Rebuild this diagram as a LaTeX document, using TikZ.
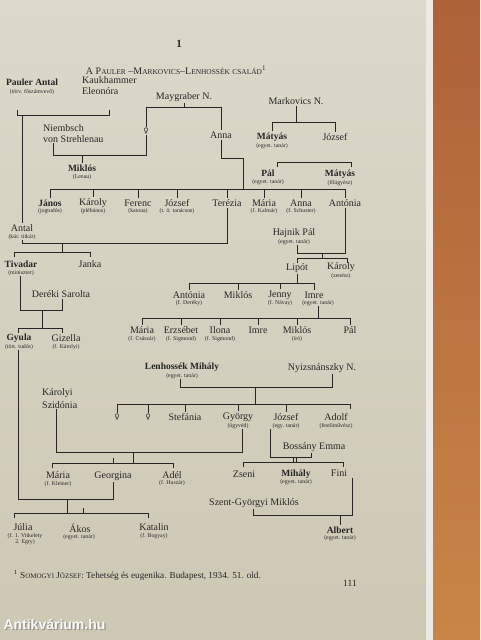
\documentclass[tikz,border=0pt]{standalone}
\usepackage{fontspec}
\setmainfont{Liberation Serif}
\newfontfamily\symf{DejaVu Sans}
\newfontfamily\wmf{Liberation Sans}
\definecolor{ink}{HTML}{262626}
\definecolor{paperT}{HTML}{DCD9CB}
\definecolor{paperB}{HTML}{CDC8B4}
\definecolor{pedge}{HTML}{ECEAE2}
\definecolor{woodT}{HTML}{AE6238}
\definecolor{woodB}{HTML}{C98547}
\newcommand\smc[1]{{\fontsize{7.4}{8}\selectfont #1}}
\newcommand\fem{{\symf\fontsize{7.5}{7.5}\selectfont ♀}}
\tikzset{
 nm/.style={font=\fontsize{10}{11}\selectfont, text=ink, inner sep=1pt},
 bn/.style={font=\bfseries\fontsize{9.5}{11}\selectfont, text=ink, inner sep=1pt},
 sb/.style={font=\fontsize{5.8}{6.3}\selectfont, text=ink, inner sep=0.5pt},
 ln/.style={draw=ink, line width=0.9pt},
}
\begin{document}
\begin{tikzpicture}[x=1pt,y=-1pt]
\useasboundingbox (0,0) rectangle (480,640);
\shade[top color=paperT,bottom color=paperB] (0,0) rectangle (428,640);
\fill[pedge] (426,0) rectangle (433,640);
\shade[top color=woodT,bottom color=woodB] (433,0) rectangle (480,640);

% heading
\node[bn,font=\bfseries\fontsize{11}{11}\selectfont] (num) at (179,44) {1};
\node[nm,font=\fontsize{10}{10}\selectfont] (title) at (176,70) {A P\smc{AULER} –M\smc{ARKOVICS}–L\smc{ENHOSSÉK} \smc{CSALÁD}\textsuperscript{1}};

% top generation
\node[bn] (pauler) at (32,82) {Pauler Antal};
\node[sb] (pauler-s) at (32,92) {(törv. főszámvevő)};
\node[nm,align=left,anchor=north west] (kauk) at (81,75) {Kaukhammer\\Eleonóra};
\node[nm] (mayg) at (184,97) {Maygraber N.};
\node[nm] (mark) at (296,101) {Markovics N.};

\coordinate (pkL) at (17,115); \coordinate (pkR) at (109,115);
\draw[ln] ([yshift=5pt]pkL) -- (pkL) -- (pkR) -- ([yshift=5pt]pkR);

\node[nm] (fem1) at (146,131) {\fem};
\node[nm] (anna1) at (221,135) {Anna};
\coordinate (mgL) at (146,107); \coordinate (mgR) at (221,107);
\draw[ln] (mayg.south) -- (mayg.south|-mgL);
\draw[ln] (fem1.north) -- (mgL) -- (mgR) -- (anna1.north);

\node[bn] (matyas1) at (272,137) {Mátyás};
\node[sb] (matyas1-s) at (272,146) {(egyet. tanár)};
\node[nm] (jozsef1) at (335,137) {József};
\coordinate (mkL) at (272,122); \coordinate (mkR) at (335,122);
\draw[ln] (mark.south) -- (mark.south|-mkL);
\draw[ln] (matyas1.north) -- (mkL) -- (mkR) -- (jozsef1.north);

\node[nm,align=left,anchor=north west] (niemb) at (42,123) {Niembsch\\von Strehlenau};
\node[bn] (miklos1) at (82,168) {Miklós};
\node[sb] (miklos1-s) at (82,177) {(Lenau)};
\coordinate (nfL) at (53,155); \coordinate (nfR) at (146,155);
\draw[ln] (nfL|-niemb.south) -- (nfL) -- (nfR) -- (fem1.south);
\draw[ln] (miklos1.north|-nfL) -- (miklos1.north);

\coordinate (amj) at (243,158);
\draw[ln] (anna1.south) |- (amj);

\node[bn] (pal1) at (268,173) {Pál};
\node[sb] (pal1-s) at (268,182) {(egyet. tanár)};
\node[bn] (matyas2) at (340,174) {Mátyás};
\node[sb] (matyas2-s) at (340,183) {(főügyész)};
\coordinate (pmL) at (277,162); \coordinate (pmR) at (351,162);
\draw[ln] ([yshift=-5pt]pmL) -- (pmL) -- (pmR) -- ([yshift=-5pt]pmR);

% big row
\node[bn] (janos) at (50,203) {János};
\node[sb] (janos-s) at (50,211) {(jogtudós)};
\node[nm] (karoly1) at (93,203) {Károly};
\node[sb] (karoly1-s) at (93,211) {(plébános)};
\node[nm] (ferenc) at (138,203) {Ferenc};
\node[sb] (ferenc-s) at (138,211) {(katona)};
\node[nm] (jozsef2) at (177,203) {József};
\node[sb] (jozsef2-s) at (177,211) {(t. ö. tanácsos)};
\node[nm] (terezia) at (227,203) {Terézia};
\node[nm] (maria1) at (264,203) {Mária};
\node[sb] (maria1-s) at (264,211) {(f. Kalmár)};
\node[nm] (anna2) at (301,203) {Anna};
\node[sb] (anna2-s) at (301,211) {(f. Schuster)};
\node[nm] (antonia1) at (345,203) {Antónia};
\coordinate (bigL) at (50,189); \coordinate (bigR) at (345,189);
\draw[ln] (bigL) -- (bigR);
\draw[ln] (amj) -- (amj|-bigL);
\foreach \n in {janos,karoly1,ferenc,jozsef2,terezia,maria1,anna2,antonia1}
  \draw[ln] (\n.north|-bigL) -- (\n.north);

% Pauler line
\node[nm] (antal) at (22,228) {Antal};
\node[sb] (antal-s) at (22,237) {(kúr. titkár)};
\draw[ln] (pkL-|antal.north) -- (antal.north);
\coordinate (atL) at (22,243); \coordinate (atR) at (227,243);
\draw[ln] (antal-s.south) -- (atL) -- (atR) -- (terezia.south);
\coordinate (tjL) at (14,252); \coordinate (tjR) at (90,252);
\draw[ln] (62,243) -- (62,252);
\draw[ln] ([yshift=-5pt]tjL) -- (tjL) -- (tjR) -- ([yshift=-5pt]tjR);
\node[bn] (tivadar) at (21,264) {Tivadar};
\node[sb] (tivadar-s) at (21,273) {(miniszter)};
\node[nm] (janka) at (90,264) {Janka};

\node[nm] (sarolta) at (61,294) {Deréki Sarolta};
\coordinate (tsL) at (20,310); \coordinate (tsR) at (62,310);
\draw[ln] (tsL|-tivadar-s.south) -- (tsL) -- (tsR) -- (tsR|-sarolta.south);
\coordinate (gyL) at (18,328); \coordinate (gyR) at (62,328);
\draw[ln] (42,310) -- (42,328);
\draw[ln] ([yshift=-5pt]gyL) -- (gyL) -- (gyR) -- ([yshift=-5pt]gyR);
\node[bn] (gyula) at (19,338) {Gyula};
\node[sb] (gyula-s) at (19,347) {(tört. tudós)};
\node[nm] (gizella) at (66,338) {Gizella};
\node[sb] (gizella-s) at (66,347) {(f. Károlyi)};

% Hajnik
\node[nm] (hajnik) at (294,233) {Hajnik Pál};
\node[sb] (hajnik-s) at (294,242) {(egyet. tanár)};
\coordinate (hjL) at (297,253); \coordinate (hjR) at (345,253);
\draw[ln] (antonia1.south) -- (hjR) -- (hjL) -- (hjL|-hajnik-s.south);
\draw[ln] (322,253) -- (322,258);
\coordinate (lkL) at (297,258); \coordinate (lkR) at (347,258);
\draw[ln] ([yshift=-5pt]lkL) -- (lkL) -- (lkR) -- ([yshift=-5pt]lkR);
\node[nm] (lipot) at (297,268) {Lipót};
\node[nm] (karoly2) at (341,267) {Károly};
\node[sb] (karoly2-s) at (341,276) {(zenész)};

\node[nm] (antonia2) at (189,295) {Antónia};
\node[sb] (antonia2-s) at (189,303) {(f. Deréky)};
\node[nm] (miklos2) at (238,295) {Miklós};
\node[nm] (jenny) at (280,295) {Jenny};
\node[sb] (jenny-s) at (280,303) {(f. Návay)};
\node[nm] (imre1) at (314,295) {Imre};
\node[sb] (imre1-s) at (318,303) {(egyet. tanár)};
\coordinate (lbL) at (189,283); \coordinate (lbR) at (314,283);
\draw[ln] (lipot.south) -- (lipot.south|-lbL);
\draw[ln] (lbL) -- (lbR);
\foreach \n in {antonia2,miklos2,jenny,imre1}
  \draw[ln] (\n.north|-lbL) -- (\n.north);

\node[nm] (maria2) at (142,330) {Mária};
\node[sb] (maria2-s) at (142,339) {(f. Császár)};
\node[nm] (erzsebet) at (181,330) {Erzsébet};
\node[sb] (erzsebet-s) at (181,339) {(f. Sigmond)};
\node[nm] (ilona) at (220,330) {Ilona};
\node[sb] (ilona-s) at (220,339) {(f. Sigmond)};
\node[nm] (imre2) at (258,330) {Imre};
\node[nm] (miklos3) at (297,330) {Miklós};
\node[sb] (miklos3-s) at (297,339) {(író)};
\node[nm] (pal2) at (350,330) {Pál};
\coordinate (ibL) at (142,318); \coordinate (ibR) at (350,318);
\draw[ln] (imre1-s.south) -- (imre1-s.south|-ibL);
\draw[ln] (ibL) -- (ibR);
\foreach \n in {maria2,erzsebet,ilona,imre2,miklos3,pal2}
  \draw[ln] (\n.north|-ibL) -- (\n.north);

% Lenhossek
\node[bn] (lenh) at (182,367) {Lenhossék Mihály};
\node[sb] (lenh-s) at (182,376) {(egyet. tanár)};
\node[nm] (nyiz) at (322,368) {Nyizsnánszky N.};
\coordinate (lnL) at (180,387); \coordinate (lnR) at (332,387);
\draw[ln] (lnL|-lenh-s.south) -- (lnL) -- (lnR) -- (lnR|-nyiz.south);
\coordinate (lcL) at (117,404); \coordinate (lcR) at (350,404);
\draw[ln] (255,387) -- (255,404);
\draw[ln] (lcL) -- (lcR);
\node[nm] (fem2) at (117,417) {\fem};
\node[nm] (fem3) at (148,417) {\fem};
\node[nm] (stefania) at (185,417) {Stefánia};
\node[nm] (gyorgy) at (238,417) {György};
\node[sb] (gyorgy-s) at (238,426) {(ügyvéd)};
\node[nm] (jozsef3) at (286,417) {József};
\node[sb] (jozsef3-s) at (286,426) {(egy. tanár)};
\node[nm] (adolf) at (336,417) {Adolf};
\node[sb] (adolf-s) at (336,426) {(festőművész)};
\foreach \n in {fem2,fem3,stefania,gyorgy,jozsef3}
  \draw[ln] (\n.north|-lcL) -- (\n.north);
\draw[ln] (lcR) -- ([yshift=-5pt]lcR);

\node[nm,align=left,anchor=north west,font=\fontsize{10}{13}\selectfont] (szidonia) at (41,387) {Károlyi\\Szidónia};
\coordinate (kgL) at (56,452); \coordinate (kgR) at (242,452);
\draw[ln] (kgL|-szidonia.south) -- (kgL) -- (kgR) -- (kgR|-gyorgy-s.south);
\draw[ln] (133,452) -- (133,463);
\coordinate (kcL) at (52,463); \coordinate (kcR) at (173,463);
\draw[ln] ([yshift=-5pt]kcL) -- (kcL) -- (kcR) -- ([yshift=-5pt]kcR);
\draw[ln] (113,463) -- ++(0,-5);
\node[nm] (maria3) at (58,475) {Mária};
\node[sb] (maria3-s) at (58,484) {(f. Kleiner)};
\node[nm] (georgina) at (113,476) {Georgina};
\node[nm] (adel) at (172,475) {Adél};
\node[sb] (adel-s) at (172,483) {(f. Huszár)};

% Gyula + Georgina
\coordinate (ggL) at (18,499); \coordinate (ggR) at (113,499);
\draw[ln] (ggL|-gyula-s.south) -- (ggL) -- (ggR) -- (georgina.south);
\draw[ln] (67,499) -- (67,513);
\coordinate (gcL) at (14,513); \coordinate (gcR) at (148,513);
\draw[ln] ([yshift=-5pt]gcL) -- (gcL) -- (gcR) -- ([yshift=-5pt]gcR);
\draw[ln] (83,513) -- ++(0,-5);
\node[nm] (julia) at (23,527) {Júlia};
\node[sb,align=center] (julia-s) at (25,539) {(f. 1. Vitkelety\\2. Egry)};
\node[nm] (akos) at (80,528) {Ákos};
\node[sb] (akos-s) at (79,537) {(egyet. tanár)};
\node[nm] (katalin) at (154,527) {Katalin};
\node[sb] (katalin-s) at (154,536) {(f. Bogyay)};

% Jozsef + Bossany
\node[nm] (emma) at (314,447) {Bossány Emma};
\coordinate (jeL) at (270,457); \coordinate (jeR) at (311,457);
\draw[ln] (jeL|-jozsef3-s.south) -- (jeL) -- (jeR) -- (jeR|-emma.south);
\draw[ln] (293,457) -- (293,462);
\coordinate (jcL) at (243,462); \coordinate (jcR) at (343,462);
\draw[ln] ([yshift=-5pt]jcL) -- (jcL) -- (jcR) -- ([yshift=-5pt]jcR);
\draw[ln] (296,462) -- ++(0,-5);
\node[nm] (zseni) at (244,474) {Zseni};
\node[bn] (mihaly) at (296,474) {Mihály};
\node[sb] (mihaly-s) at (296,482) {(egyet. tanár)};
\node[nm] (fini) at (339,473) {Fini};

\node[nm] (szent) at (254,503) {Szent-Györgyi Miklós};
\coordinate (fsR) at (352,515); \coordinate (fsL) at (253,515);
\draw[ln] (fsR|-fini.south) -- (fsR) -- (fsL) -- (fsL|-szent.south);
\node[bn] (albert) at (340,530) {Albert};
\node[sb] (albert-s) at (340,538) {(egyet. tanár)};
\draw[ln] (albert.north|-fsL) -- (albert.north);

% footnote, page number, watermark
\node[nm,anchor=west,font=\fontsize{9.2}{10}\selectfont] (foot) at (13,575) {\textsuperscript{1} S{\fontsize{7}{8}\selectfont OMOGYI} J{\fontsize{7}{8}\selectfont ÓZSEF}: Tehetség és eugenika. Budapest, 1934. 51. old.};
\node[nm,font=\fontsize{9.5}{10}\selectfont] (page) at (350,583) {111};
\node[anchor=west,text=black!60,opacity=0.55,font=\wmf\bfseries\fontsize{14}{14}\selectfont] (wmsh) at (1.2,625.2) {Antikvárium.hu};
\node[anchor=west,text=white,opacity=0.92,font=\wmf\bfseries\fontsize{14}{14}\selectfont] (wm) at (0,624) {Antikvárium.hu};
\end{tikzpicture}
\end{document}
